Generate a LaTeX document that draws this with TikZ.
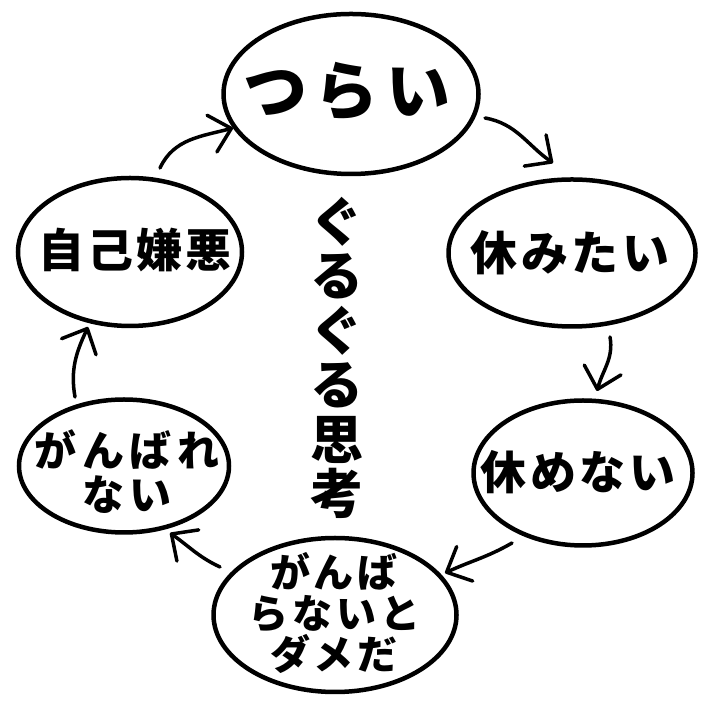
\documentclass[tikz,border=0pt]{standalone}
\usepackage{fontspec}
\newfontfamily\cjk{Noto Sans CJK JP}
\usetikzlibrary{arrows.meta,calc,shapes.geometric}
\newcommand\myfs[3]{\cjk\bfseries\fontsize{#1}{#2}\selectfont\addfontfeature{LetterSpace=#3}}
\begin{document}
\begin{tikzpicture}[x=1pt,y=1pt,
  bubble/.style={draw, ellipse, line width=4.5pt, inner sep=0pt},
  lbl/.style={align=center, inner sep=0pt},
  cyc/.style={line width=3.5pt, line cap=round,
    -{Straight Barb[length=20pt,width=38pt,line width=3.5pt,round]}}]
\useasboundingbox (0,0) rectangle (708,708);
\fill[white] (0,0) rectangle (708,708);

% bubbles
\node[bubble, minimum width=255pt, minimum height=160pt] (tsurai) at (351,614) {};
\node[bubble, minimum width=247pt, minimum height=147pt] (yasumitai) at (572,455) {};
\node[bubble, minimum width=219pt, minimum height=145pt] (yasumenai) at (583,235) {};
\node[bubble, minimum width=243pt, minimum height=154pt] (ganbaranai) at (335,93) {};
\node[bubble, minimum width=210pt, minimum height=133pt] (ganbarenai) at (124,242) {};
\node[bubble, minimum width=224pt, minimum height=148pt] (jiko) at (130,456) {};

% labels
\node[lbl, font=\myfs{64}{68}{12}] (tsuraiT) at (347,616) {つらい};
\node[lbl, font=\myfs{47}{50}{8}] (yasumitaiT) at (570,455) {休みたい};
\node[lbl, font=\myfs{46}{50}{8}] (yasumenaiT) at (578,236) {休めない};
\node[lbl, font=\myfs{46}{50}{6}] (jikoT) at (135,458) {自己嫌悪};
\node[lbl, font=\myfs{42}{44}{14}] (ganbarenaiT) at (127,236) {がんばれ\\ない};
\node[lbl, font=\myfs{40}{41}{10}] (ganbaranaiT) at (334,95) {がんば\\らないと\\ダメだ};
\node[lbl, font=\myfs{53}{54.5}{0}] (center) at (337,350) {ぐ\\る\\ぐ\\る\\思\\考};

% cycle arrows
\draw[cyc] ($(tsurai)+(134,-24)$) to[out=-10, in=145] ($(yasumitai)+(-19,90)$);
\draw[cyc] ($(yasumitai)+(38,-84)$) to[out=-80, in=75] ($(yasumenai)+(14,82)$);
\draw[cyc] ($(yasumenai)+(-71,-70)$) to[out=-150, in=25] ($(ganbaranai)+(110,42)$);
\draw[cyc] ($(ganbaranai)+(-115,48)$) to[out=155, in=-35] ($(ganbarenai)+(46,-67)$);
\draw[cyc] ($(ganbarenai)+(-49,69)$) to[out=100, in=-115] ($(jiko)+(-42,-75)$);
\draw[cyc] ($(jiko)+(30,84)$) to[out=65, in=195] ($(tsurai)+(-118,-34)$);
\end{tikzpicture}
\end{document}
